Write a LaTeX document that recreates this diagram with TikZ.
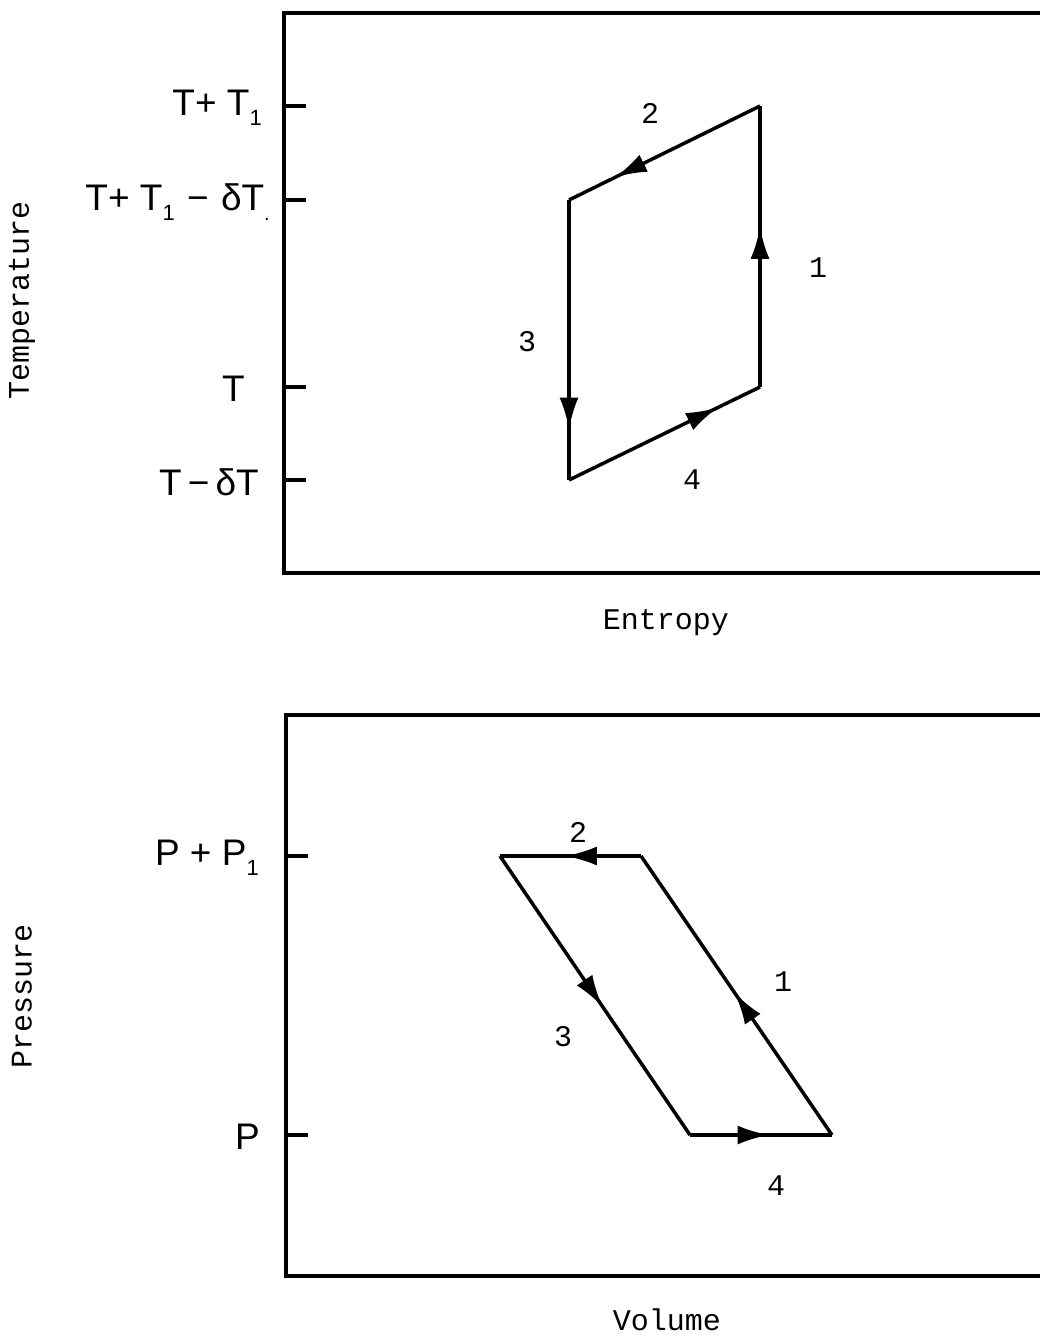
\documentclass[tikz,border=0pt]{standalone}
\usepackage{fontspec}
\setmainfont{Liberation Sans}
\newfontfamily\monof{Liberation Mono}
\usetikzlibrary{arrows.meta,decorations.markings}
\newcommand{\subone}{\raisebox{-10pt}{\fontsize{22}{22}\selectfont 1}}
\tikzset{
  frame/.style={line width=3.5pt},
  edge/.style={line width=3.5pt, line join=miter},
  tick/.style={line width=3.5pt},
  ticklab/.style={anchor=east, inner sep=0pt, font=\fontsize{37}{40}\selectfont},
  axlab/.style={inner sep=0pt, font=\monof\fontsize{30}{32}\selectfont},
  numlab/.style={inner sep=0pt, font=\monof\fontsize{30}{30}\selectfont},
  midarrow/.style={postaction={decorate}, decoration={markings,
    mark=at position #1 with {\arrow{Latex[length=32pt,width=19pt]}}}},
}
\begin{document}
\begin{tikzpicture}[x=1pt,y=-1pt]
\useasboundingbox (0,0) rectangle (1040,1336);
% ---------- top panel ----------
\draw[frame] (1045,13) -- (284,13) -- (284,573) -- (1045,573);
\foreach \n/\y in {a/106,b/200,c/387,d/480}{
  \coordinate (t\n) at (284,\y);
  \coordinate (t\n e) at (306,\y);
  \draw[tick] (t\n) -- (t\n e);
}
\node[ticklab] (la) at (262,108) {T+ T\subone};
\node[ticklab] (lb) at (270,202) {T+ T\subone\,\,\textminus\,\,δT\raisebox{-10pt}{\fontsize{20}{20}\selectfont .}};
\node[ticklab] (lc) at (245,389) {T};
\node[ticklab] (ld) at (259,482) {T\,\textminus\,δT};
\coordinate (A1) at (760,106);
\coordinate (A2) at (569,200);
\coordinate (A3) at (569,480);
\coordinate (A4) at (760,387);
\draw[edge, midarrow=0.57] (A4) -- (A1);
\draw[edge, midarrow=0.76] (A1) -- (A2);
\draw[edge, midarrow=0.82] (A2) -- (A3);
\draw[edge, midarrow=0.78] (A3) -- (A4);
\node[numlab] (n1) at (818,268) {1};
\node[numlab] (n2) at (650,113) {2};
\node[numlab] (n3) at (527,342) {3};
\node[numlab] (n4) at (692,480) {4};
\node[axlab] (xl1) at (666,623) {Entropy};
\node[axlab, rotate=90] (yl1) at (22,300) {Temperature};
% ---------- bottom panel ----------
\draw[frame] (1045,715) -- (286,715) -- (286,1276) -- (1045,1276);
\coordinate (pa) at (286,856);
\coordinate (pae) at (308,856);
\coordinate (pb) at (286,1135);
\coordinate (pbe) at (308,1135);
\draw[tick] (pa) -- (pae);
\draw[tick] (pb) -- (pbe);
\node[ticklab] (lp1) at (259,858) {P + P\subone};
\node[ticklab] (lp2) at (260,1137) {P};
\coordinate (B1) at (641,856);
\coordinate (B2) at (500,856);
\coordinate (B3) at (690,1135);
\coordinate (B4) at (832,1135);
\draw[edge, midarrow=0.51] (B4) -- (B1);
\draw[edge, midarrow=0.54] (B1) -- (B2);
\draw[edge, midarrow=0.54] (B2) -- (B3);
\draw[edge, midarrow=0.56] (B3) -- (B4);
\node[numlab] (m1) at (783,982) {1};
\node[numlab] (m2) at (578,832) {2};
\node[numlab] (m3) at (563,1037) {3};
\node[numlab] (m4) at (776,1186) {4};
\node[axlab] (xl2) at (667,1320) {Volume};
\node[axlab, rotate=90] (yl2) at (22,996) {Pressure};
\end{tikzpicture}
\end{document}
